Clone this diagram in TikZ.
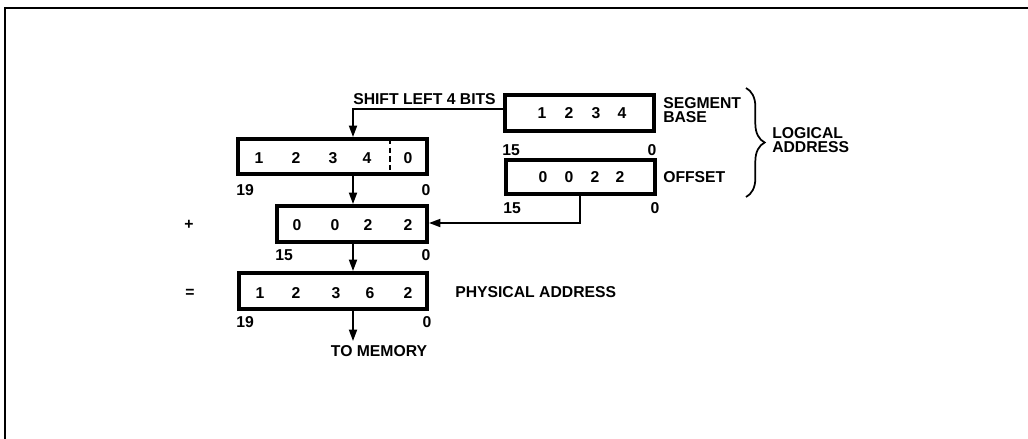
\documentclass[tikz,border=0pt]{standalone}
\usepackage{fontspec}
\setmainfont{Liberation Sans}
\usetikzlibrary{arrows.meta,decorations.pathreplacing}
\begin{document}
\begin{tikzpicture}[x=0.75pt,y=-0.75pt,
  regbox/.style={draw,line width=3pt,minimum height=27pt,inner sep=0pt},
  dig/.style={inner sep=0pt,font=\fontsize{11.8}{12}\selectfont\bfseries},
  lbl/.style={inner sep=0pt,font=\fontsize{11.8}{12}\selectfont\bfseries},
  two/.style={anchor=west,align=left,font=\fontsize{11.8}{10.6}\selectfont\bfseries},
  arr/.style={line width=1.3pt,-{Triangle[length=8.5pt,width=6pt]}},
  frame/.style={line width=1.8pt}]
\useasboundingbox (0,0) rectangle (1028,439);
\coordinate (ftl) at (5,8);
\coordinate (ftr) at (1028,8);
\coordinate (fbl) at (5,439);
\draw[frame] (fbl) -- (ftl) -- (ftr);

% boxes
\node[regbox,minimum width=111.75pt] (seg) at (579.5,113) {};
\node[regbox,minimum width=111.75pt,minimum height=25.5pt] (off) at (580.5,176.5) {};
\node[regbox,minimum width=141.75pt,minimum height=26.25pt] (sh) at (332.5,156.5) {};
\node[regbox,minimum width=112.5pt] (add) at (352,224) {};
\node[regbox,minimum width=141pt] (sum) at (333,291) {};

% digits
\foreach \x/\d [count=\i] in {542/1,569/2,596/3,622/4} \node[dig] (segd\i) at (\x,113) {\d};
\foreach \x/\d [count=\i] in {543/0,569/0,595/2,620/2} \node[dig] (offd\i) at (\x,177) {\d};
\foreach \x/\d [count=\i] in {259/1,296/2,333/3,367/4,408/0} \node[dig] (shd\i) at (\x,158) {\d};
\foreach \x/\d [count=\i] in {297/0,335/0,368/2,408/2} \node[dig] (addd\i) at (\x,225) {\d};
\foreach \x/\d [count=\i] in {260/1,296/2,336/3,370/6,408/2} \node[dig] (sumd\i) at (\x,293) {\d};

% dashed divider
\coordinate (dvt) at (390,139);
\coordinate (dvb) at (390,174);
\draw[line width=2pt,dash pattern=on 4pt off 2.5pt] (dvt) -- (dvb);

% bit labels
\node[lbl] (segh) at (511,150) {15};
\node[lbl] (segl) at (652,150) {0};
\node[lbl] (offh) at (512,208) {15};
\node[lbl] (offl) at (655,208) {0};
\node[lbl] (shh) at (245,190) {19};
\node[lbl] (shl) at (426,190) {0};
\node[lbl] (addh) at (284,255) {15};
\node[lbl] (addl) at (426,255) {0};
\node[lbl] (sumh) at (245,322) {19};
\node[lbl] (suml) at (427,322) {0};

% side labels
\node[lbl] (plus) at (189,225) {+};
\node[lbl] (eq) at (190,293) {=};
\node[lbl,anchor=east] (shift) at (496,99) {SHIFT LEFT 4 BITS};
\node[lbl,two] (segt) at (663,110) {SEGMENT\\BASE};
\node[lbl,anchor=west] (offt) at (663,177) {OFFSET};
\node[lbl,anchor=west] (phys) at (455,292) {PHYSICAL ADDRESS};
\node[lbl,two] (logt) at (772,140) {LOGICAL\\ADDRESS};
\node[lbl] (mem) at (379,351) {TO MEMORY};

% brace
\coordinate (bt) at (746,88);
\coordinate (bb) at (746,197);
\draw[line width=1.3pt,decorate,decoration={brace,amplitude=14pt}] (bt) -- (bb);

% connectors
\coordinate (shc) at (353,109);
\draw[arr] (seg.west |- shc) -- (shc) -- (shc |- sh.north);
\draw[arr] (353,176) -- (353,204);
\draw[arr] (353,244) -- (353,271);
\coordinate (memend) at (353,341);
\draw[arr] (353,311) -- (memend);
\coordinate (offc) at (580,223);
\draw[arr] (off.south -| offc) -- (offc) -- (offc -| add.east);
\end{tikzpicture}
\end{document}
